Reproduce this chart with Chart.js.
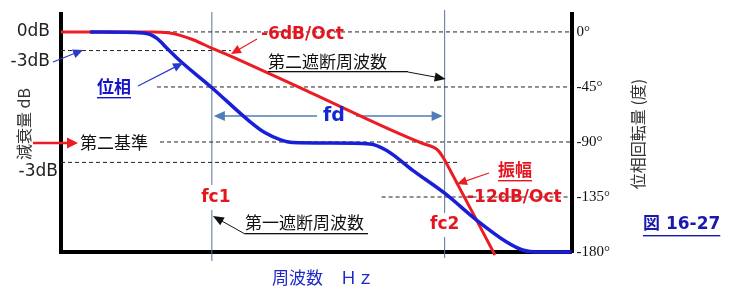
<!DOCTYPE html>
<html>
<head>
<meta charset="utf-8">
<script src="https://cdn.jsdelivr.net/npm/chart.js@4"></script>
<style>
  html, body { margin: 0; padding: 0; background: #fff; }
  canvas { display: block; }
</style>
</head>
<body>
<canvas id="bode" width="730" height="291"></canvas>
<script>
// relative frequency axis 0..100 (no tick labels in the figure)
const ampX  = [0, 18, 21, 23.5, 26, 29.5, 33.1, 47.4, 71.0, 72.8, 73.9, 75.0, 76.0, 85.0];
const ampDb = [0, 0, -0.15, -0.6, -1.3, -2.6, -3.85, -9.2, -18.0, -18.5, -19.1, -20.4, -21.9, -35.9];

const phaseX   = [5.7, 16.05, 17.4, 18.8, 20.9, 23.3, 29.55, 37.0, 39.9, 42.9, 45.4, 52.6, 60.5, 63.8, 68.9, 75.15, 81.4, 87.3, 90.4, 93.7, 100];
const phaseDeg = [0, -0.8, -2.0, -5.3, -13.9, -23.6, -45.6, -73.3, -82.3, -88.0, -90.4, -90.8, -91.6, -96.9, -113.2, -131.9, -153.9, -171.9, -178.4, -180, -180];

const phaseTicks = [0, -45, -90, -135, -180];

// dashed guides: [level, fromX, toX]
const dbGuides  = [[0, 0, 100], [-3, 0, 33.3], [-21, 0, 77.7]];
const degGuides = [[-45, 18.8, 100], [-90, 19.4, 100], [-135, 62.8, 100]];

const fc1 = 29.55;
const fc2 = 75.15;

const RED = 'rgb(235,28,36)';
const BLUE = 'rgb(25,30,215)';
const JP = '"Noto Sans CJK JP"';

function pts(xs, ys) { return xs.map((x, i) => ({ x: x, y: ys[i] })); }

const guideSets = [];
dbGuides.forEach(g => guideSets.push({
  data: [{ x: g[1], y: g[0] }, { x: g[2], y: g[0] }], yAxisID: 'db',
  borderColor: '#222', borderWidth: 1, borderDash: [4, 3], order: 5
}));
degGuides.forEach(g => guideSets.push({
  data: [{ x: g[1], y: g[0] }, { x: g[2], y: g[0] }], yAxisID: 'deg',
  borderColor: '#222', borderWidth: 1, borderDash: [4, 3], order: 5
}));

function arrow(ctx, x1, y1, x2, y2, color, lw, hl, hw) {
  const a = Math.atan2(y2 - y1, x2 - x1);
  const c = Math.cos(a), s = Math.sin(a);
  ctx.save();
  ctx.strokeStyle = color; ctx.fillStyle = color; ctx.lineWidth = lw;
  ctx.beginPath(); ctx.moveTo(x1, y1); ctx.lineTo(x2 - c * hl * 0.8, y2 - s * hl * 0.8); ctx.stroke();
  ctx.beginPath(); ctx.moveTo(x2, y2);
  ctx.lineTo(x2 - hl * c + hw * s, y2 - hl * s - hw * c);
  ctx.lineTo(x2 - hl * c - hw * s, y2 - hl * s + hw * c);
  ctx.closePath(); ctx.fill();
  ctx.restore();
}

function label(ctx, str, x, y, font, color, align, ul) {
  ctx.save();
  ctx.font = font; ctx.fillStyle = color;
  ctx.textAlign = align || 'left'; ctx.textBaseline = 'middle';
  ctx.fillText(str, x, y);
  if (ul) {
    const w = ctx.measureText(str).width;
    const x0 = align === 'center' ? x - w / 2 : align === 'right' ? x - w : x;
    ctx.fillRect(x0, y + ul, w, 1.4);
  }
  ctx.restore();
}

function vlabel(ctx, str, x, y, font, color) {
  ctx.save();
  ctx.translate(x, y); ctx.rotate(-Math.PI / 2);
  ctx.font = font; ctx.fillStyle = color;
  ctx.textAlign = 'center'; ctx.textBaseline = 'middle';
  ctx.fillText(str, 0, 0);
  ctx.restore();
}

// fc lines, fd arrow (under curves)
const underlay = {
  id: 'underlay',
  beforeDatasetsDraw(chart) {
    const ctx = chart.ctx, xs = chart.scales.x;
    const x1 = xs.getPixelForValue(fc1), x2 = xs.getPixelForValue(fc2);
    ctx.save();
    ctx.strokeStyle = 'rgb(85,115,160)'; ctx.lineWidth = 1;
    ctx.beginPath();
    ctx.moveTo(x1, 12); ctx.lineTo(x1, 185);
    ctx.moveTo(x1, 210); ctx.lineTo(x1, 261);
    ctx.moveTo(x2, 10); ctx.lineTo(x2, 213);
    ctx.moveTo(x2, 237); ctx.lineTo(x2, 258);
    ctx.stroke();
    ctx.restore();
    const fdc = 'rgb(80,125,185)';
    arrow(ctx, 317, 116, x1 + 2, 116, fdc, 1.3, 11, 5);
    arrow(ctx, 356, 116, x2 - 2, 116, fdc, 1.3, 11, 5);
  }
};

const overlay = {
  id: 'overlay',
  afterDatasetsDraw(chart) {
    const ctx = chart.ctx, xs = chart.scales.x;
    const x1 = xs.getPixelForValue(fc1), x2 = xs.getPixelForValue(fc2);
    const lat = '17px "DejaVu Sans"';
    const latB = 'bold 17px "DejaVu Sans"';
    const jp = '17px ' + JP;
    const jpB = 'bold 17px ' + JP;

    // left side
    label(ctx, '0dB', 50, 32, lat, '#222', 'right');
    label(ctx, '-3dB', 50, 62, lat, '#222', 'right');
    label(ctx, '-3dB', 58, 172, lat, '#222', 'right');
    arrow(ctx, 53, 62, 83, 50, 'rgb(40,60,200)', 1.2, 10, 4.5);
    vlabel(ctx, '減衰量 dB', 24, 124, '16px ' + JP, '#333');
    arrow(ctx, 33, 143, 78, 143, RED, 2.6, 11, 5.5);
    label(ctx, '第二基準', 80, 143, jp, '#111');
    label(ctx, '位相', 97, 87, jpB, 'rgb(20,20,200)', 'left', 10);
    arrow(ctx, 138, 86, 183, 63, 'rgb(40,60,200)', 1.2, 10, 4.5);

    // upper middle
    label(ctx, '-6dB/Oct', 261, 35, latB, 'rgb(230,20,30)');
    arrow(ctx, 257, 39, 231, 54, RED, 1.2, 10, 4.5);
    label(ctx, '第二遮断周波数', 268, 62, jp, '#111');
    ctx.save(); ctx.fillStyle = '#111'; ctx.fillRect(268, 71, 140, 1.3); ctx.restore();
    arrow(ctx, 408, 72, x2 + 1, 79, '#111', 1, 11, 4.5);
    label(ctx, 'fd', 334, 116, 'bold 19px "DejaVu Sans"', 'rgb(20,40,210)', 'center');

    // fc labels
    label(ctx, 'fc1', x1 + 4, 198, latB, 'rgb(230,20,30)', 'center');
    label(ctx, 'fc2', x2, 225, latB, 'rgb(230,20,30)', 'center');
    label(ctx, '第一遮断周波数', 245, 223, jp, '#111');
    ctx.save(); ctx.fillStyle = '#111'; ctx.fillRect(245, 233, 123, 1.3); ctx.restore();
    arrow(ctx, 245, 234, x1 + 1, 216, '#111', 1, 11, 4.5);

    // right side
    label(ctx, '振幅', 498, 170, jpB, 'rgb(230,20,30)', 'left', 10);
    arrow(ctx, 489, 173, 457, 184, RED, 1.2, 10, 4.5);
    label(ctx, '-12dB/Oct', 467, 198, latB, 'rgb(230,20,30)');
    vlabel(ctx, '位相回転量 (度)', 638, 134, '16px ' + JP, '#333');
    label(ctx, '図 16-27', 643, 225, 'bold 17px "DejaVu Sans", ' + JP, 'rgb(25,25,175)', 'left', 10);

    // x title
    label(ctx, '周波数　Ｈｚ', 272, 278, jp, 'rgb(30,40,200)');
  }
};

new Chart(document.getElementById('bode'), {
  type: 'line',
  data: {
    datasets: [
      { data: pts(phaseX, phaseDeg), yAxisID: 'deg', borderColor: BLUE, borderWidth: 3.5,
        cubicInterpolationMode: 'monotone', order: 0, clip: false },
      { data: pts(ampX, ampDb), yAxisID: 'db', borderColor: RED, borderWidth: 3,
        cubicInterpolationMode: 'monotone', order: 1, clip: false }
    ].concat(guideSets)
  },
  options: {
    responsive: false,
    animation: false,
    events: [],
    layout: { padding: { left: 61, top: 13, bottom: 39, right: 115 } },
    elements: { point: { radius: 0 } },
    plugins: { legend: { display: false }, tooltip: { enabled: false } },
    scales: {
      x: {
        type: 'linear', min: 0, max: 100,
        grid: { display: false, drawTicks: false },
        ticks: { display: false },
        border: { color: '#000', width: 4 }
      },
      db: {
        type: 'linear', position: 'left', min: -35.42, max: 2.885,
        grid: { display: false, drawTicks: false },
        ticks: { display: false },
        border: { color: '#000', width: 4 }
      },
      deg: {
        type: 'linear', position: 'right', min: -180, max: 14.7,
        grid: { display: false, drawTicks: false },
        border: { color: '#000', width: 4 },
        afterBuildTicks: s => { s.ticks = phaseTicks.map(v => ({ value: v })); },
        ticks: {
          color: '#111', padding: 5,
          font: { family: '"Liberation Serif"', size: 15 },
          callback: v => v + '°'
        }
      }
    }
  },
  plugins: [underlay, overlay]
});
</script>
</body>
</html>
